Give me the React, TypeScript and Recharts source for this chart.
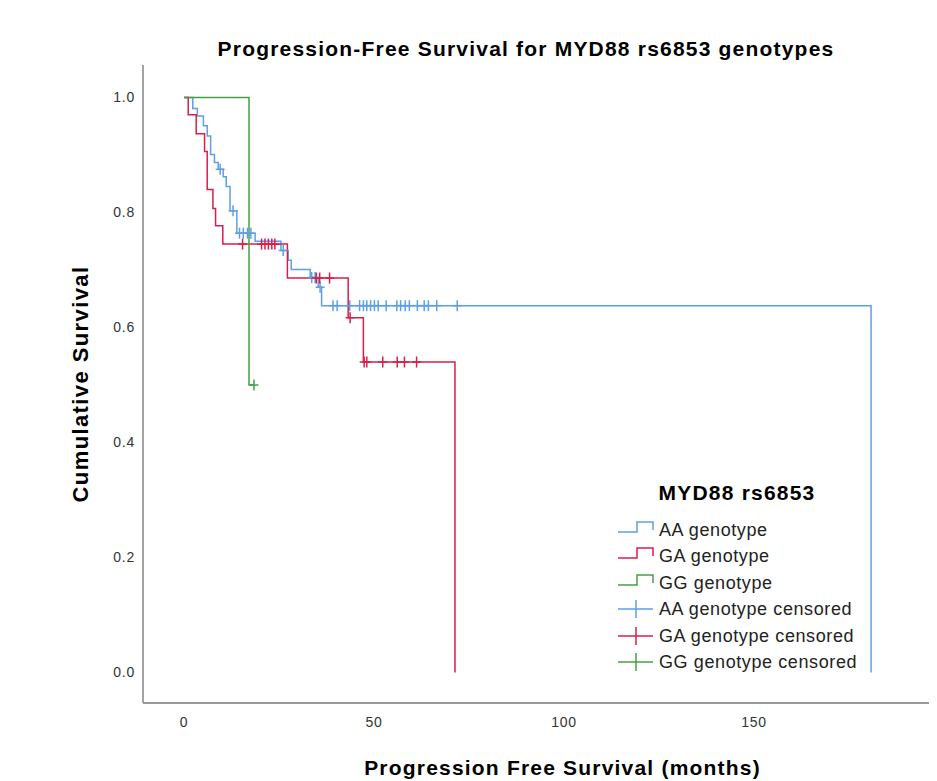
import React from 'react';
import { ComposedChart, Line, Scatter, XAxis, YAxis } from 'recharts';

type Pt = { t: number; s: number };

// Kaplan-Meier step data (time in months, cumulative survival)
const aaSteps: Pt[] = [
  { t: 0, s: 1.0 }, { t: 2.3, s: 0.981 }, { t: 3.5, s: 0.968 }, { t: 5.1, s: 0.951 },
  { t: 6.1, s: 0.933 }, { t: 7.0, s: 0.901 }, { t: 8.0, s: 0.887 }, { t: 9.0, s: 0.875 },
  { t: 10.3, s: 0.862 }, { t: 11.1, s: 0.845 }, { t: 12.1, s: 0.803 }, { t: 13.9, s: 0.764 },
  { t: 18.7, s: 0.75 }, { t: 25.5, s: 0.734 }, { t: 27.4, s: 0.717 }, { t: 28.2, s: 0.701 },
  { t: 33.2, s: 0.687 }, { t: 35.3, s: 0.67 }, { t: 36.2, s: 0.638 }, { t: 180.8, s: 0 },
];
const gaSteps: Pt[] = [
  { t: 0, s: 1.0 }, { t: 1.1, s: 0.97 }, { t: 3.2, s: 0.937 }, { t: 5.4, s: 0.906 },
  { t: 6.1, s: 0.84 }, { t: 7.6, s: 0.807 }, { t: 8.3, s: 0.777 }, { t: 10.2, s: 0.745 },
  { t: 27.2, s: 0.686 }, { t: 43.2, s: 0.617 }, { t: 47.2, s: 0.54 }, { t: 71.3, s: 0 },
];
const ggSteps: Pt[] = [
  { t: 0, s: 1.0 }, { t: 17.1, s: 0.5 }, { t: 18.4, s: 0.5 },
];

// censoring times (months)
const aaCensored: number[] = [
  9.5, 12.9, 14.6, 15.6, 16.7, 17.6, 26.1, 33.6, 34.5, 35.8,
  39.2, 40.3, 43.6, 46.2, 47.2, 48.1, 49.1, 50.1, 51.1, 53.2,
  56.0, 57.0, 58.2, 59.3, 61.4, 63.2, 64.3, 66.5, 71.9,
];
const gaCensored: number[] = [
  15.4, 20.4, 21.3, 22.2, 23.1, 23.9, 34.8, 35.7, 38.3, 43.7,
  47.4, 48.1, 52.3, 56.1, 58.0, 61.2,
];
const ggCensored: number[] = [18.4];

const xTicks: number[] = [0, 50, 100, 150, 200];
const yTicks: number[] = [0, 0.2, 0.4, 0.6, 0.8, 1.0];

const chartTitle = 'Progression-Free Survival for MYD88 rs6853 genotypes';
const xLabel = 'Progression Free Survival (months)';
const yLabel = 'Cumulative Survival';
const legendTitle = 'MYD88 rs6853';
const groupNames: string[] = ['AA genotype', 'GA genotype', 'GG genotype'];

const COLORS: string[] = ['#5f9fe3', '#d81f4b', '#4b9c49'];
const FONT = '"Liberation Sans", Arial, sans-serif';

function survivalAt(steps: Pt[], t: number): number {
  let s = steps[0].s;
  for (const p of steps) {
    if (p.t <= t) s = p.s;
    else break;
  }
  return s;
}

const censorPoints = (steps: Pt[], times: number[]) =>
  times.map((t) => ({ t, s: survivalAt(steps, t) }));

const makeCross = (color: string) => (props: any) => {
  const { cx, cy } = props;
  if (cx == null || cy == null) return <g />;
  return (
    <g>
      <line x1={cx - 4.5} x2={cx + 4.5} y1={cy} y2={cy} stroke={color} strokeWidth={1.5} />
      <line x1={cx} x2={cx} y1={cy - 5.5} y2={cy + 5.5} stroke={color} strokeWidth={1.5} />
    </g>
  );
};

const series = [
  { name: groupNames[0], steps: aaSteps, censored: aaCensored, color: COLORS[0] },
  { name: groupNames[1], steps: gaSteps, censored: gaCensored, color: COLORS[1] },
  { name: groupNames[2], steps: ggSteps, censored: ggCensored, color: COLORS[2] },
];

const LegendBox = () => {
  const rowTop0 = 530 - 8;
  const rowGap = 26.4;
  const items = [
    ...series.map((s) => ({ label: s.name, color: s.color, kind: 'step' })),
    ...series.map((s) => ({ label: s.name + ' censored', color: s.color, kind: 'cross' })),
  ];
  return (
    <>
      <div
        style={{
          position: 'absolute', left: 629, width: 200, top: 474, textAlign: 'center',
          fontFamily: FONT, fontWeight: 'bold', fontSize: 21, lineHeight: '21px',
          letterSpacing: 1.2, color: '#000', whiteSpace: 'nowrap',
        }}
      >
        {legendTitle}
      </div>
      {items.map((it, i) => {
        const yc = rowTop0 + i * rowGap;
        return (
          <div key={i}>
            <svg
              width={40}
              height={24}
              style={{ position: 'absolute', left: 608, top: yc - 12 }}
            >
              {it.kind === 'step' ? (
                <path
                  d="M2,14 H21 V4 H37 V12"
                  fill="none"
                  stroke={it.color}
                  strokeWidth={1.5}
                />
              ) : (
                <g stroke={it.color} strokeWidth={1.5}>
                  <line x1={2} x2={37} y1={12} y2={12} />
                  <line x1={20} x2={20} y1={3} y2={21} />
                </g>
              )}
            </svg>
            <div
              style={{
                position: 'absolute', left: 651, top: yc - 9, fontFamily: FONT,
                fontSize: 18, lineHeight: '18px', letterSpacing: 0.6, color: '#222',
                whiteSpace: 'nowrap',
              }}
            >
              {it.label}
            </div>
          </div>
        );
      })}
    </>
  );
};

export default function App() {
  return (
    <div style={{ position: 'relative', width: 929, height: 773, overflow: 'hidden', background: '#fff' }}>
      <div
        style={{
          position: 'absolute', left: 18, width: 1000, top: 30, textAlign: 'center',
          fontFamily: FONT, fontWeight: 'bold', fontSize: 21, lineHeight: '21px',
          letterSpacing: 1.2, color: '#000', whiteSpace: 'nowrap',
        }}
      >
        {chartTitle}
      </div>
      <ComposedChart
        width={1000}
        height={773}
        margin={{ top: 57, right: 26, bottom: 0, left: 9 }}
        style={{ fontFamily: FONT }}
      >
        <XAxis
          type="number"
          dataKey="t"
          domain={[-10.8, 210]}
          allowDataOverflow
          ticks={xTicks}
          interval={0}
          tickLine={false}
          tickMargin={8}
          height={78}
          axisLine={{ stroke: '#999', strokeWidth: 1.8 }}
          tick={{ fill: '#333', fontSize: 14, letterSpacing: 0.8 }}
          label={{
            value: xLabel, position: 'insideBottom', offset: 6,
            style: { fontWeight: 'bold', fontSize: 21, fill: '#000', letterSpacing: 1.2 },
          }}
        />
        <YAxis
          type="number"
          domain={[-0.053, 1.0565]}
          allowDataOverflow
          ticks={yTicks}
          interval={0}
          width={126}
          tickLine={false}
          tickFormatter={(v: number) => v.toFixed(1)}
          axisLine={{ stroke: '#999', strokeWidth: 1.8 }}
          tick={{ fill: '#333', fontSize: 14, letterSpacing: 0.8 }}
          label={{
            value: yLabel, angle: -90, position: 'center',
            style: { fontWeight: 'bold', fontSize: 22, fill: '#000', letterSpacing: 1.4 },
          }}
        />
        {series.map((s) => (
          <Line
            key={s.name}
            name={s.name}
            data={s.steps}
            dataKey="s"
            type="stepAfter"
            stroke={s.color}
            strokeWidth={1.5}
            dot={false}
            activeDot={false}
            isAnimationActive={false}
          />
        ))}
        {series.map((s) => (
          <Scatter
            key={s.name + ' censored'}
            name={s.name + ' censored'}
            data={censorPoints(s.steps, s.censored)}
            dataKey="s"
            shape={makeCross(s.color)}
            isAnimationActive={false}
          />
        ))}
      </ComposedChart>
      <LegendBox />
    </div>
  );
}
